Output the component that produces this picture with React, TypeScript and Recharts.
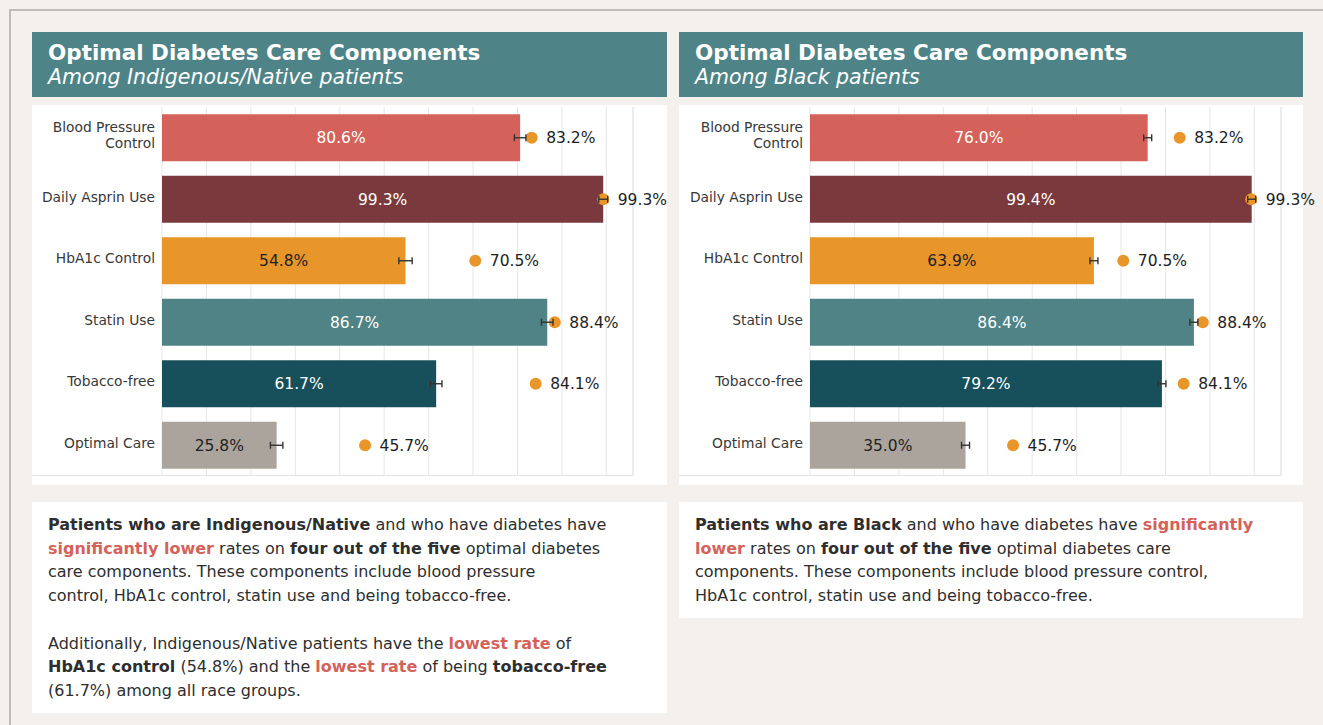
import React from "react";
import {
  Bar,
  CartesianGrid,
  Cell,
  ComposedChart,
  ErrorBar,
  LabelList,
  ReferenceLine,
  Scatter,
  XAxis,
  YAxis,
} from "recharts";

const categories = [
  "Blood Pressure Control",
  "Daily Asprin Use",
  "HbA1c Control",
  "Statin Use",
  "Tobacco-free",
  "Optimal Care",
];

// orange dots = rate among all patients
const overallRates = [83.2, 99.3, 70.5, 88.4, 84.1, 45.7];

const indigenousRates = [80.6, 99.3, 54.8, 86.7, 61.7, 25.8];
const indigenousErr = [1.3, 1.0, 1.5, 1.3, 1.3, 1.4];

const blackRates = [76.0, 99.4, 63.9, 86.4, 79.2, 35.0];
const blackErr = [0.9, 0.9, 0.9, 0.9, 0.9, 0.9];

const gridTicks = [0, 10, 20, 30, 40, 50, 60, 70, 80, 90, 100];
const X_MAX = 106;

const barColors = ["#d4625a", "#7a3a3d", "#e8962a", "#4f8386", "#17505a", "#aba49c"];
const darkLabelBars = [false, false, true, false, false, true];

const FONT = "'DejaVu Sans', sans-serif";
const TEXT = "#2e2e2e";
const RED = "#d4625a";
const DOT = "#e8962a";

const pct = (v: number) => `${v.toFixed(1)}%`;

function buildRows(rates: number[], errs: number[]) {
  return categories.map((name, i) => ({
    name,
    val: rates[i],
    err: errs[i],
    overall: overallRates[i],
    color: barColors[i],
    lightLabel: darkLabelBars[i] ? "" : pct(rates[i]),
    darkLabel: darkLabelBars[i] ? pct(rates[i]) : "",
    overallLabel: pct(overallRates[i]),
  }));
}

const CatTick = ({ x, y, payload }: any) => {
  const lines =
    payload.value === "Blood Pressure Control" ? ["Blood Pressure", "Control"] : [payload.value];
  return (
    <text x={x} y={y} textAnchor="end" fontSize={13.8} fill="#383838" fontFamily={FONT}>
      {lines.map((l: string, i: number) => (
        <tspan key={l} x={x} dy={i === 0 ? 2.5 - (lines.length - 1) * 8 : 16}>
          {l}
        </tspan>
      ))}
    </text>
  );
};

function PanelChart({
  rates,
  errs,
  width,
  axisWidth,
  right,
}: {
  rates: number[];
  errs: number[];
  width: number;
  axisWidth: number;
  right: number;
}) {
  const rows = buildRows(rates, errs);
  return (
    <div style={{ position: "relative", width, height: 380 }}>
      <div
        style={{
          position: "absolute",
          left: 0,
          top: 370,
          width: width - right,
          height: 1,
          background: "#e4e4e4",
        }}
      />
      <ComposedChart
        layout="vertical"
        width={width}
        height={380}
        data={rows}
        margin={{ top: 2, right, bottom: 9, left: 0 }}
        barCategoryGap="11.8%"
      >
        <CartesianGrid horizontal={false} stroke="#e6e6e6" />
        <XAxis type="number" domain={[0, X_MAX]} ticks={gridTicks} hide />
        <YAxis
          type="category"
          dataKey="name"
          width={axisWidth}
          axisLine={false}
          tickLine={false}
          tickSize={0}
          tickMargin={7}
          tick={<CatTick />}
          interval={0}
        />
        <ReferenceLine x={X_MAX} stroke="#e6e6e6" />
        <Bar dataKey="val" isAnimationActive={false}>
          {rows.map((r) => (
            <Cell key={r.name} fill={r.color} />
          ))}
          <LabelList
            dataKey="lightLabel"
            position="center"
            fill="#ffffff"
            fontSize={15.5}
            fontFamily={FONT}
          />
          <LabelList
            dataKey="darkLabel"
            position="center"
            fill="#222"
            fontSize={15.5}
            fontFamily={FONT}
          />
        </Bar>
        <Scatter
          dataKey="overall"
          isAnimationActive={false}
          zIndex={600}
          shape={(p: any) => <circle cx={p.cx} cy={p.cy} r={6} fill={DOT} />}
        >
          <LabelList
            dataKey="overallLabel"
            position="right"
            offset={10}
            fill="#1e1e1e"
            fontSize={15.5}
            fontFamily={FONT}
          />
        </Scatter>
        <Scatter dataKey="val" isAnimationActive={false} zIndex={800} shape={() => <g />}>
          <ErrorBar
            dataKey="err"
            direction="x"
            width={3.5}
            stroke="#333"
            strokeWidth={1.4}
            zIndex={900}
          />
        </Scatter>
      </ComposedChart>
    </div>
  );
}

const Header = ({ sub }: { sub: string }) => (
  <div
    style={{
      background: "#4e8487",
      height: 65,
      color: "#fff",
      fontFamily: FONT,
      padding: "8px 0 0 16px",
      boxSizing: "border-box",
    }}
  >
    <div style={{ fontSize: 21.5, fontWeight: 700, lineHeight: "26px" }}>
      Optimal Diabetes Care Components
    </div>
    <div style={{ fontSize: 20.5, fontStyle: "italic", lineHeight: "23px" }}>{sub}</div>
  </div>
);

const B = ({ children }: { children: React.ReactNode }) => (
  <b style={{ fontWeight: 700 }}>{children}</b>
);
const R = ({ children }: { children: React.ReactNode }) => (
  <b style={{ fontWeight: 700, color: RED }}>{children}</b>
);

const textBox: React.CSSProperties = {
  background: "#fff",
  fontFamily: FONT,
  fontSize: 16,
  lineHeight: "23.7px",
  color: TEXT,
  padding: "11px 0 0 16px",
  boxSizing: "border-box",
  whiteSpace: "nowrap",
};

export default function App() {
  return (
    <div
      style={{
        position: "absolute",
        left: 0,
        top: 0,
        width: 1323,
        height: 725,
        overflow: "hidden",
        background: "#f3f0ee",
      }}
    >
      <style>{".recharts-surface { overflow: visible; }"}</style>
      <div
        style={{
          position: "absolute",
          left: 9,
          top: 9,
          width: 1400,
          height: 800,
          border: "2px solid #bdbcbb",
        }}
      />
      <div style={{ position: "absolute", left: 32, top: 32, width: 635 }}>
        <Header sub="Among Indigenous/Native patients" />
        <div style={{ background: "#fff", marginTop: 8 }}>
          <PanelChart rates={indigenousRates} errs={indigenousErr} width={635} axisWidth={130} right={34} />
        </div>
      </div>
      <div style={{ position: "absolute", left: 679, top: 32, width: 624 }}>
        <Header sub="Among Black patients" />
        <div style={{ background: "#fff", marginTop: 8 }}>
          <PanelChart rates={blackRates} errs={blackErr} width={624} axisWidth={131} right={22} />
        </div>
      </div>
      <div style={{ ...textBox, position: "absolute", left: 32, top: 502, width: 635, height: 211 }}>
        <B>Patients who are Indigenous/Native</B> and who have diabetes have
        <br />
        <R>significantly lower</R> rates on <B>four out of the five</B> optimal diabetes
        <br />
        care components. These components include blood pressure
        <br />
        control, HbA1c control, statin use and being tobacco-free.
        <br />
        <br />
        Additionally, Indigenous/Native patients have the <R>lowest rate</R> of
        <br />
        <B>HbA1c control</B> (54.8%) and the <R>lowest rate</R> of being <B>tobacco-free</B>
        <br />
        (61.7%) among all race groups.
      </div>
      <div style={{ ...textBox, position: "absolute", left: 679, top: 502, width: 624, height: 116 }}>
        <B>Patients who are Black</B> and who have diabetes have <R>significantly</R>
        <br />
        <R>lower</R> rates on <B>four out of the five</B> optimal diabetes care
        <br />
        components. These components include blood pressure control,
        <br />
        HbA1c control, statin use and being tobacco-free.
      </div>
    </div>
  );
}
